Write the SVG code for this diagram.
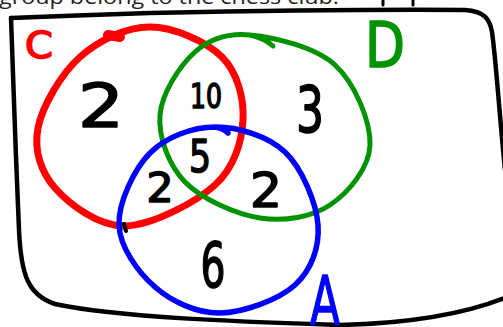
<svg xmlns="http://www.w3.org/2000/svg" width="503" height="327" viewBox="0 0 503 327">
<style>
.ink{fill:none;stroke-linecap:round;stroke-linejoin:round}
.num{font-family:"DejaVu Sans",sans-serif;fill:#000;stroke:#000;stroke-width:1.6;stroke-linejoin:round;text-anchor:middle}
.lbl{font-family:"DejaVu Sans",sans-serif;stroke-width:1.6;stroke-linejoin:round;text-anchor:middle}
</style>
<rect width="503" height="327" fill="#fff"/>
<g id="caption">
<text x="-1" y="4" font-family="Open Sans, sans-serif" font-size="20" fill="#222" textLength="340" lengthAdjust="spacingAndGlyphs">group belong to the chess club.</text>
<path class="ink" d="M383,0 L383,5 M413,0 L413,5" stroke="#000" stroke-width="3"/>
</g>
<g id="box">
<path class="ink" stroke="#000" stroke-width="4.5" d="M11,18 C60,16 100,15 150,13 C250,11 350,9 465,10 C485,11 490,20 492,32 C496,60 499,110 505,170"/>
<path class="ink" stroke="#000" stroke-width="4.5" d="M11,18 C13,80 16,160 19,230 C21,275 28,295 55,304 C120,318 250,322 340,325 C420,323 470,312 507,297"/>
</g>
<g id="set-C">
<path class="ink" stroke="#ff0000" stroke-width="7" d="M150,27 C173.7,27 206.5,41.5 222,57 C237.5,72.5 244.2,98.7 243,120 C241.8,141.3 234.7,167.3 215,185 C195.3,202.7 151.7,225.5 125,226 C98.3,226.5 69.5,204.3 55,188 C40.5,171.7 33.8,149.8 38,128 C42.2,106.2 61.3,73.8 80,57 C98.7,40.2 126.3,27 150,27"/>
<path class="ink" stroke="#ff0000" stroke-width="10" d="M108,35 L120,37"/>
<path class="ink" stroke="#000" stroke-width="4" d="M124,224 L126,231"/>
<text class="lbl" x="39" y="58" font-size="37" textLength="28" lengthAdjust="spacingAndGlyphs" fill="#ff0000" stroke="#ff0000">C</text>
</g>
<g id="set-D">
<path class="ink" stroke="#009300" stroke-width="5" d="M250,35 C273.3,37.2 315,46.7 335,65 C355,83.3 370.8,121.7 370,145 C369.2,168.3 348.3,192.8 330,205 C311.7,217.2 284.2,221.8 260,218 C235.8,214.2 201.7,199.2 185,182 C168.3,164.8 158.3,136.7 160,115 C161.7,93.3 180,65.3 195,52 C210,38.7 226.7,32.8 250,35 Q264,38 273,46"/>
<text class="lbl" x="385" y="67" font-size="62" textLength="40" lengthAdjust="spacingAndGlyphs" fill="#009300" stroke="#009300">D</text>
</g>
<g id="set-A">
<path class="ink" stroke="#0000ff" stroke-width="5.5" d="M215,127 C237.5,126.8 267.8,135.7 285,152 C302.2,168.3 316.3,202.8 318,225 C319.7,247.2 311.3,270.3 295,285 C278.7,299.7 243.3,312.7 220,313 C196.7,313.3 171.8,301.7 155,287 C138.2,272.3 119.8,247.3 119,225 C118.2,202.7 134,169.3 150,153 C166,136.7 192.5,127.2 215,127 Q223,128 228,133"/>
<text class="lbl" x="325" y="325" font-size="68" textLength="30" lengthAdjust="spacingAndGlyphs" fill="#0000ff" stroke="#0000ff">A</text>
</g>
<g id="counts">
<text class="num" x="101" y="127" font-size="60" textLength="46" lengthAdjust="spacingAndGlyphs">2</text>
<text class="num" x="206" y="108" font-size="34" textLength="32" lengthAdjust="spacingAndGlyphs">10</text>
<text class="num" x="310" y="132" font-size="64" textLength="28" lengthAdjust="spacingAndGlyphs">3</text>
<text class="num" x="200" y="172" font-size="44" textLength="22" lengthAdjust="spacingAndGlyphs">5</text>
<text class="num" x="160" y="202" font-size="41" textLength="27" lengthAdjust="spacingAndGlyphs">2</text>
<text class="num" x="266" y="207" font-size="48" textLength="32" lengthAdjust="spacingAndGlyphs">2</text>
<text class="num" x="213" y="287" font-size="62" textLength="25" lengthAdjust="spacingAndGlyphs">6</text>
</g>
</svg>
